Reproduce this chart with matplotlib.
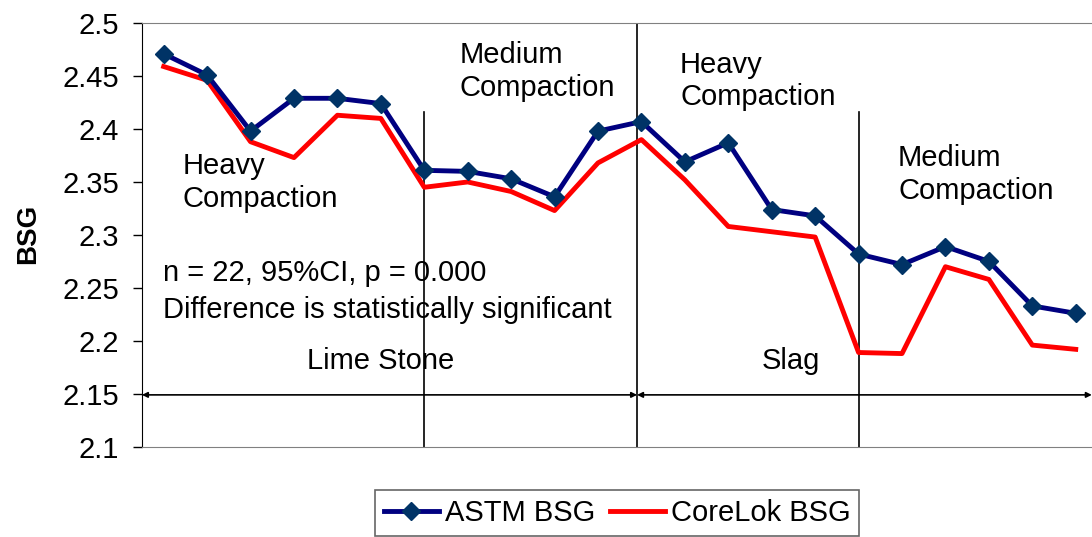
import numpy as np
import matplotlib
matplotlib.use("Agg")
import matplotlib.pyplot as plt

plt.rcParams['font.family'] = ['Liberation Sans', 'DejaVu Sans']

# sample number 1..22
samples = np.arange(1, 23)
astm_bsg = [2.471, 2.451, 2.398, 2.429, 2.429, 2.424, 2.361, 2.360, 2.353, 2.336, 2.398,
            2.407, 2.369, 2.387, 2.324, 2.318, 2.282, 2.272, 2.289, 2.275, 2.233, 2.226]
corelok_bsg = [2.459, 2.446, 2.388, 2.373, 2.413, 2.410, 2.345, 2.350, 2.341, 2.323, 2.368,
               2.390, 2.352, 2.308, 2.303, 2.298, 2.189, 2.188, 2.270, 2.258, 2.196, 2.192]
yticks = [2.1, 2.15, 2.2, 2.25, 2.3, 2.35, 2.4, 2.45, 2.5]

fig = plt.figure(figsize=(10.92, 5.37), dpi=100)
ax = fig.add_axes([0.130, 0.168, 0.875, 0.789])

ax.plot(samples, astm_bsg, color='#000080', lw=3.5, marker='D', markersize=9,
        markerfacecolor='#003366', markeredgecolor='#003366', label='ASTM BSG', zorder=4)
ax.plot(samples, corelok_bsg, color='#ff0000', lw=3.5, label='CoreLok BSG', zorder=3)

ax.set_xlim(0.5, 22.5)
ax.set_ylim(2.1, 2.5)
ax.set_yticks(yticks)
ax.set_yticklabels([f'{t:g}' for t in yticks], fontsize=21)
ax.set_xticks([])
ax.tick_params(axis='y', direction='out', length=6.5, width=1, pad=10)
ax.set_ylabel('BSG', fontsize=20, fontweight='bold')
ax.yaxis.set_label_coords(-0.106, 0.502)

for s in ['top', 'bottom', 'right']:
    ax.spines[s].set_color('#808080')
ax.spines['left'].set_color('black')

# divider lines
ax.plot([7, 7], [2.1, 2.4165], color='black', lw=1.2)
ax.plot([11.9, 11.9], [2.1, 2.5], color='black', lw=1.2)
ax.plot([17, 17], [2.1, 2.4165], color='black', lw=1.2)

# material arrows
arr = dict(arrowstyle='<|-|>', color='black', lw=1.2, mutation_scale=8, shrinkA=0, shrinkB=0)
ax.annotate('', xy=(0.5, 2.149), xytext=(11.9, 2.149), arrowprops=arr)
ax.annotate('', xy=(11.9, 2.149), xytext=(22.37, 2.149), arrowprops=arr, annotation_clip=False)

ax.text(1.44, 2.378, 'Heavy\nCompaction', fontsize=21, va='top', ha='left', linespacing=1.22)
ax.text(7.82, 2.483, 'Medium\nCompaction', fontsize=21, va='top', ha='left', linespacing=1.22)
ax.text(12.89, 2.474, 'Heavy\nCompaction', fontsize=21, va='top', ha='left', linespacing=1.22)
ax.text(17.91, 2.386, 'Medium\nCompaction', fontsize=21, va='top', ha='left', linespacing=1.25)
ax.text(0.98, 2.277, 'n = 22, 95%CI, p = 0.000\nDifference is statistically significant',
        fontsize=21, va='top', ha='left', linespacing=1.38)
ax.text(4.29, 2.194, 'Lime Stone', fontsize=21, va='top', ha='left')
ax.text(14.77, 2.194, 'Slag', fontsize=21, va='top', ha='left')

leg = fig.legend(loc='upper center', bbox_to_anchor=(617 / 1092, 1 - 490 / 537), ncol=2,
                 fontsize=21, frameon=True, fancybox=False, edgecolor='#404040',
                 handlelength=1.9, handletextpad=0.2, columnspacing=0.5, borderpad=0.3,
                 borderaxespad=0)
leg.get_frame().set_linewidth(1.2)

fig.savefig('out.png', dpi=100)
